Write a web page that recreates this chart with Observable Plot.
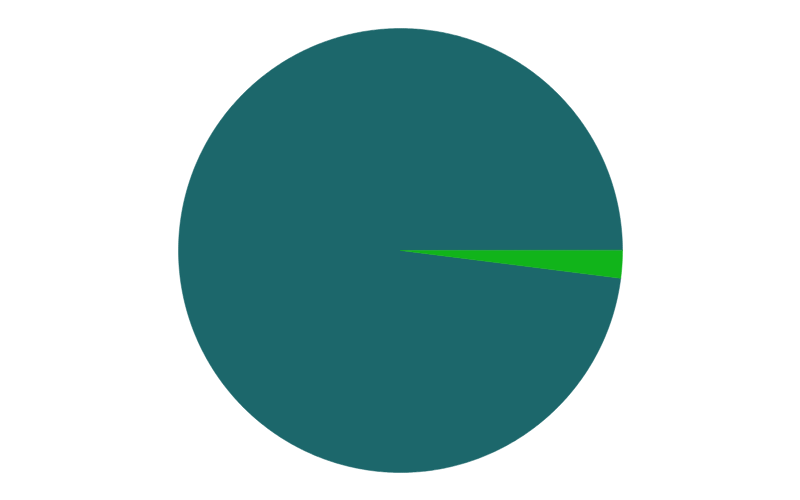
<!DOCTYPE html>
<html>
<head>
<meta charset="utf-8">
<script src="https://cdn.jsdelivr.net/npm/d3@7"></script>
<script src="https://cdn.jsdelivr.net/npm/@observablehq/plot@0.6"></script>
<style>
  html, body { margin: 0; padding: 0; background: #fff; }
</style>
</head>
<body>
<div id="chart"></div>
<script>
const categories = ["A", "B"];
const values = [98, 2];
const colors = ["#1c676b", "#11b41a"];

const W = 800, H = 500, R = 222, CX = 400, CY = 250;

// Build slice polygons (unit circle) from values with d3.pie
// start at 3 o'clock, counterclockwise (matplotlib-style)
const pie = d3.pie().sort(null).value(d => d.value)
  .startAngle(0).endAngle(2 * Math.PI);
const data = categories.map((c, i) => ({category: c, value: values[i]}));
const arcs = pie(data);
const pts = [];
arcs.forEach(a => {
  const n = Math.max(2, Math.ceil((a.endAngle - a.startAngle) / (Math.PI / 360)));
  pts.push({category: a.data.category, x: 0, y: 0});
  for (let k = 0; k <= n; k++) {
    const t = a.startAngle + (a.endAngle - a.startAngle) * k / n;
    // counterclockwise from +x axis; y axis points up
    pts.push({category: a.data.category, x: Math.cos(t), y: Math.sin(t)});
  }
});

const chart = Plot.plot({
  width: W,
  height: H,
  margin: 0,
  x: {domain: [-CX / R, (W - CX) / R], axis: null},
  y: {domain: [-(H - CY) / R, CY / R], axis: null},
  color: {domain: categories, range: colors},
  marks: [
    Plot.line(pts, {x: "x", y: "y", z: "category", fill: "category", stroke: "category", strokeWidth: 0.5, curve: "linear-closed"})
  ]
});
document.getElementById("chart").appendChild(chart);
</script>
</body>
</html>
